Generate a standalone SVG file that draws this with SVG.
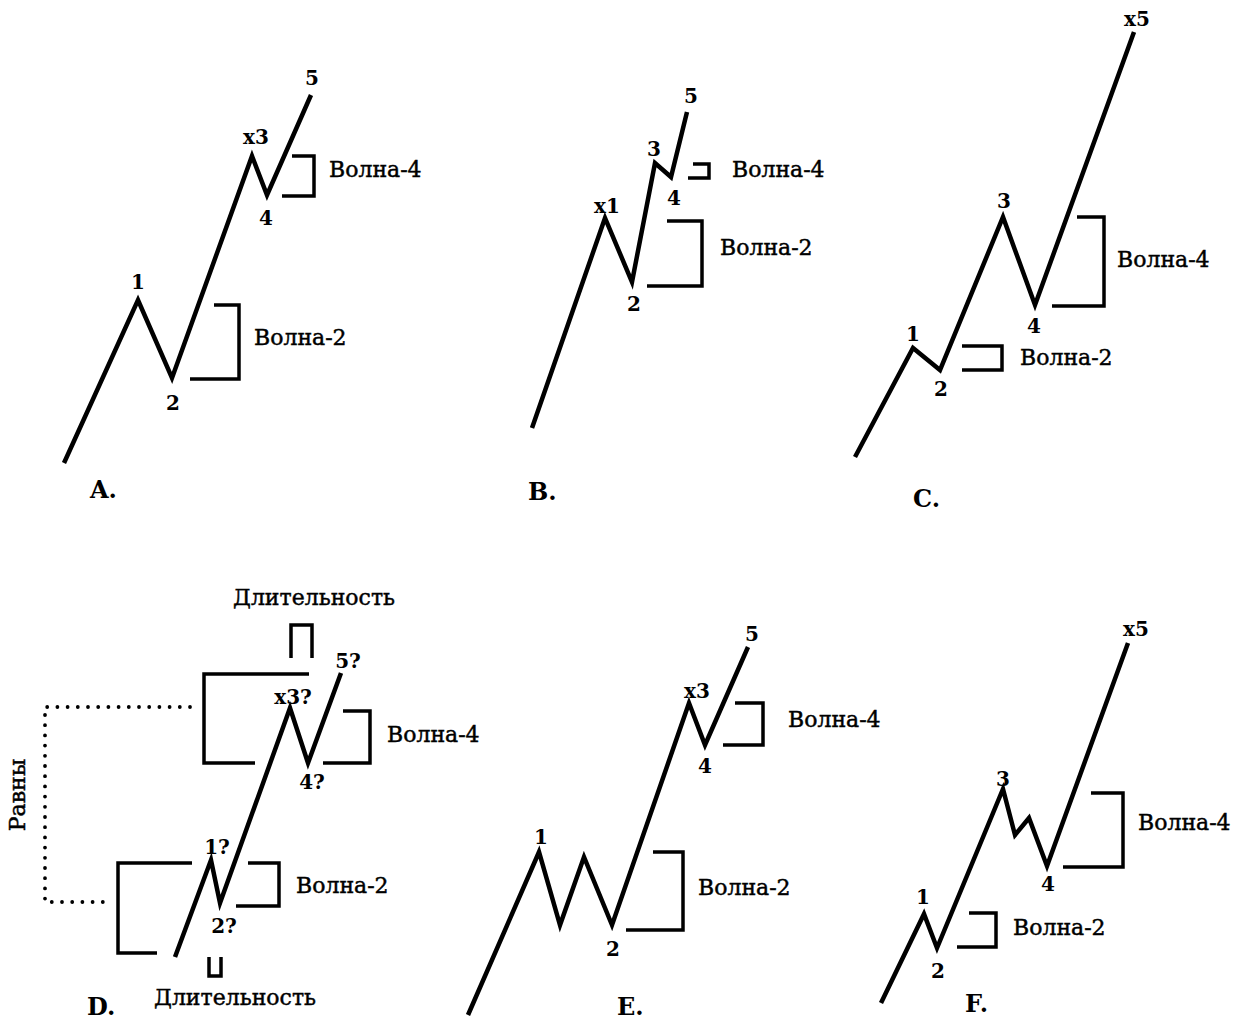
<svg xmlns="http://www.w3.org/2000/svg" width="1240" height="1020" viewBox="0 0 1240 1020">
<style>
.w{fill:none;stroke:#000;stroke-width:4.5;stroke-linejoin:miter;stroke-miterlimit:10;stroke-linecap:butt}
.b{fill:none;stroke:#000;stroke-width:3.5;stroke-linejoin:miter;stroke-linecap:butt}
.d{fill:none;stroke:#000;stroke-width:3.8;stroke-linecap:round;stroke-dasharray:0 10.2}
.n{font-family:"DejaVu Serif","Liberation Serif",serif;font-weight:bold;font-size:20px;text-anchor:middle;fill:#000}
.t{font-family:"DejaVu Serif","Liberation Serif",serif;font-size:22px;fill:#000;stroke:#000;stroke-width:0.45}
.p{font-family:"DejaVu Serif","Liberation Serif",serif;font-weight:bold;font-size:24px;fill:#000}
</style>
<rect width="1240" height="1020" fill="#fff"/>
<g id="panelA">
<polyline class="w" points="64,463 138,300 172,378 252,156 267,195 311,95"/>
<polyline class="b" points="292,156 314,156 314,196 282,196"/>
<polyline class="b" points="214,305 239,305 239,379 190,379"/>
<text class="n" x="138" y="289">1</text>
<text class="n" x="173" y="410">2</text>
<text class="n" x="256" y="144">x3</text>
<text class="n" x="266" y="225">4</text>
<text class="n" x="312" y="85">5</text>
<text class="t" x="329" y="177">Волна-4</text>
<text class="t" x="254" y="345">Волна-2</text>
<text class="p" x="90" y="498">A.</text>
</g>
<g id="panelB">
<polyline class="w" points="532,428 605,218 632,282 655,163 671,177 687,112"/>
<polyline class="b" points="693,164 709,164 709,178 688,178"/>
<polyline class="b" points="667,221 702,221 702,286 647,286"/>
<text class="n" x="691" y="103">5</text>
<text class="n" x="654" y="156">3</text>
<text class="n" x="607" y="213">x1</text>
<text class="n" x="674" y="205">4</text>
<text class="n" x="634" y="311">2</text>
<text class="t" x="732" y="177">Волна-4</text>
<text class="t" x="720" y="255">Волна-2</text>
<text class="p" x="528" y="500">B.</text>
</g>
<g id="panelC">
<polyline class="w" points="855,457 913,348 940,370 1003,217 1035,305 1134,32"/>
<polyline class="b" points="1077,217 1104,217 1104,306 1052,306"/>
<polyline class="b" points="962,346 1002,346 1002,370 962,370"/>
<text class="n" x="913" y="341">1</text>
<text class="n" x="941" y="396">2</text>
<text class="n" x="1004" y="208">3</text>
<text class="n" x="1034" y="333">4</text>
<text class="n" x="1137" y="26">x5</text>
<text class="t" x="1117" y="267">Волна-4</text>
<text class="t" x="1020" y="365">Волна-2</text>
<text class="p" x="913" y="507">C.</text>
</g>
<g id="panelD">
<polyline class="w" points="175,957 211,860 220,903 290,708 308,763 341,673"/>
<polyline class="b" points="309,674 204,674 204,763 255,763"/>
<polyline class="b" points="343,711 370,711 370,763 323,763"/>
<polyline class="b" points="192,863 118,863 118,953 157,953"/>
<polyline class="b" points="248,863 279,863 279,906 236,906"/>
<polyline class="b" points="291,658 291,625 312,625 312,658"/>
<polyline class="b" points="209,957 209,976 221,976 221,957"/>
<text class="n" x="348" y="668">5?</text>
<text class="n" x="293" y="704">x3?</text>
<text class="n" x="312" y="789">4?</text>
<text class="n" x="217" y="854">1?</text>
<text class="n" x="224" y="933">2?</text>
<text class="t" x="387" y="742">Волна-4</text>
<text class="t" x="296" y="893">Волна-2</text>
<text class="t" x="233" y="605">Длительность</text>
<text class="t" x="154" y="1005">Длительность</text>
<text class="t" transform="translate(25,795) rotate(-90)" x="0" y="0" text-anchor="middle">Равны</text>
<text class="p" x="87" y="1015">D.</text>
</g>
<g id="panelE">
<polyline class="w" points="468,1015 539,852 560,925 584,857 612,925 689,703 705,745 748,647"/>
<polyline class="b" points="735,703 763,703 763,745 723,745"/>
<polyline class="b" points="653,852 683,852 683,930 626,930"/>
<text class="n" x="752" y="641">5</text>
<text class="n" x="697" y="698">x3</text>
<text class="n" x="705" y="773">4</text>
<text class="n" x="541" y="844">1</text>
<text class="n" x="613" y="956">2</text>
<text class="t" x="788" y="727">Волна-4</text>
<text class="t" x="698" y="895">Волна-2</text>
<text class="p" x="617" y="1015">E.</text>
</g>
<g id="panelF">
<polyline class="w" points="881,1003 924,914 937,948 1003,789 1015,835 1029,818 1047,866 1128,643"/>
<polyline class="b" points="1091,793 1123,793 1123,867 1063,867"/>
<polyline class="b" points="969,913 996,913 996,947 957,947"/>
<text class="n" x="1136" y="636">x5</text>
<text class="n" x="1003" y="786">3</text>
<text class="n" x="1048" y="891">4</text>
<text class="n" x="923" y="904">1</text>
<text class="n" x="938" y="978">2</text>
<text class="t" x="1138" y="830">Волна-4</text>
<text class="t" x="1013" y="935">Волна-2</text>
<text class="p" x="965" y="1012">F.</text>
</g>
<g id="connectors">
<polyline class="d" points="190,707 45,707 45,902 105,902"/>
</g>
</svg>
